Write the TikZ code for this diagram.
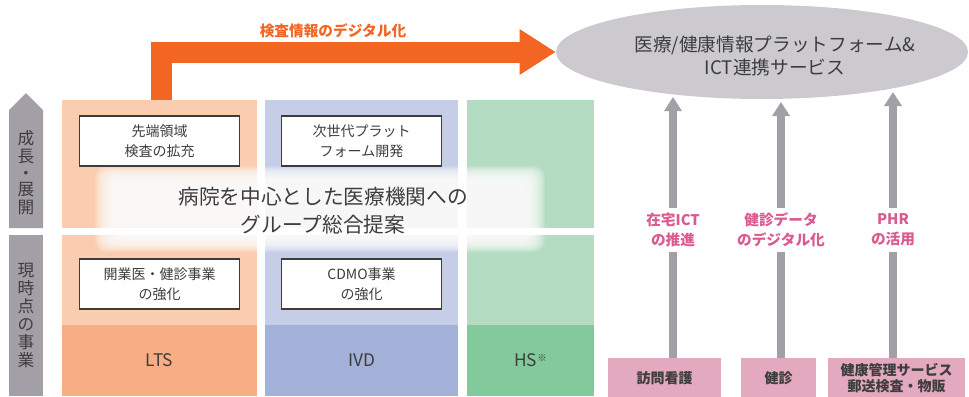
\documentclass[tikz,border=0pt]{standalone}
\usepackage{fontspec}
\setmainfont{Noto Sans CJK JP}
\usetikzlibrary{arrows.meta,shapes.geometric}
\definecolor{ltsL}{HTML}{FACDB0}
\definecolor{ltsD}{HTML}{F8AE84}
\definecolor{ivdL}{HTML}{C6CDE7}
\definecolor{ivdD}{HTML}{A3B0D8}
\definecolor{hsL}{HTML}{B3DCC2}
\definecolor{hsD}{HTML}{82C99C}
\definecolor{grayA}{HTML}{A39FA6}
\definecolor{ellC}{HTML}{CCCACF}
\definecolor{orng}{HTML}{F26522}
\definecolor{pinkT}{HTML}{DA5B91}
\definecolor{pinkB}{HTML}{E3A9BE}
\definecolor{txt}{HTML}{3D3D3D}
\tikzset{
  bandnode/.style={inner sep=0pt, minimum height=53.25pt, text=txt, font=\fontsize{13}{15}\selectfont},
  wbox/.style={draw=txt, line width=0.8pt, fill=white, minimum width=120pt, minimum height=37.5pt, align=center, inner sep=0pt, text=txt, font=\fontsize{10.5}{15}\selectfont},
  pbox/.style={fill=pinkB, minimum height=30pt, inner sep=0pt, align=center, text=txt, font=\bfseries\fontsize{10.5}{11.5}\selectfont},
  plabel/.style={fill=white, align=center, text=pinkT, inner sep=2pt, minimum height=33pt, font=\bfseries\fontsize{11}{15}\selectfont},
  grayarr/.style={draw=grayA, line width=6pt, -{Triangle[length=10.5pt, width=12.75pt]}},
  orarr/.style={draw=orng, line width=15.75pt, line join=miter, -{Triangle[length=27pt, width=32.25pt]}},
  vtext/.style={align=center, text=txt, inner sep=0pt, font=\fontsize{12.5}{13.5}\selectfont},
}
\begin{document}
\begin{tikzpicture}[x=0.75pt,y=-0.75pt]
\useasboundingbox (0,0) rectangle (969,396);
% left gray indicator
\fill[grayA] (9,228) -- (9,110) -- (26,93) -- (43,110) -- (43,228) -- cycle;
\fill[grayA] (9,235) rectangle (43,396);
\node[vtext] (grow) at (26,173) {成\\長\\[-1pt]・\\[-1pt]展\\開};
\node[vtext] (now) at (26,316) {現\\時\\点\\の\\事\\業};
% columns
\fill[ltsL] (62,100) rectangle (257,228);
\fill[ltsL] (62,235) rectangle (257,325);
\fill[ivdL] (265,100) rectangle (458,228);
\fill[ivdL] (265,235) rectangle (458,325);
\fill[hsL] (467,100) rectangle (594,228);
\fill[hsL] (467,235) rectangle (594,325);
\node[bandnode, fill=ltsD, minimum width=146.25pt] (lts) at (159.5,360.5) {LTS};
\node[bandnode, fill=ivdD, minimum width=144.75pt] (ivd) at (361.5,360.5) {IVD};
\node[bandnode, fill=hsD, minimum width=95.25pt] (hs) at (530.5,360.5) {HS\raisebox{4pt}{\fontsize{7}{7}\selectfont ※}};
% glow
\foreach \i in {0,...,23} {
  \fill[white, opacity=0.12, rounded corners=8pt] (95+\i,166+0.75*\i) rectangle (545-\i,252-0.75*\i);
}
% white boxes
\node[wbox] (b1) at (159.5,141) {先端領域\\検査の拡充};
\node[wbox] (b2) at (361.5,141) {次世代プラット\\フォーム開発};
\node[wbox] (b3) at (159.5,284) {開業医・健診事業\\の強化};
\node[wbox] (b4) at (361.5,284) {CDMO事業\\の強化};
\node[align=center, text=txt, inner sep=0pt, font=\fontsize{15.5}{21}\selectfont] (prop) at (323,211) {病院を中心とした医療機関への\\グループ総合提案};
% ellipse
\node[ellipse, fill=ellC, minimum width=309pt, minimum height=70.5pt, inner sep=0pt] (ell) at (762,52) {};
\node[align=center, text=txt, inner sep=0pt, font=\fontsize{14}{17.5}\selectfont] (ellt) at (775,56) {医療/健康情報プラットフォーム\&\\ICT連携サービス};
% orange arrow
\coordinate (ostart) at (161.5,100);
\draw[orarr] (ostart) |- (ell.west);
\node[text=orng, inner sep=0pt, font=\bfseries\fontsize{11}{13}\selectfont] (olbl) at (333,31) {検査情報のデジタル化};
% pink boxes
\node[pbox, minimum width=84.75pt] (p1) at (664.5,378) {訪問看護};
\node[pbox, minimum width=56.25pt] (p2) at (778.5,378) {健診};
\node[pbox, minimum width=102.75pt] (p3) at (896.5,378) {健康管理サービス\\郵送検査・物販};
\coordinate (t1) at (673,97);
\coordinate (t2) at (781,102);
\coordinate (t3) at (893,92);
\draw[grayarr] (p1.north -| t1) -- (t1);
\draw[grayarr] (p2.north -| t2) -- (t2);
\draw[grayarr] (p3.north -| t3) -- (t3);
\node[plabel] (l1) at (673,230) {在宅ICT\\の推進};
\node[plabel] (l2) at (781,230) {健診データ\\のデジタル化};
\node[plabel] (l3) at (893,230) {PHR\\の活用};
\end{tikzpicture}
\end{document}
